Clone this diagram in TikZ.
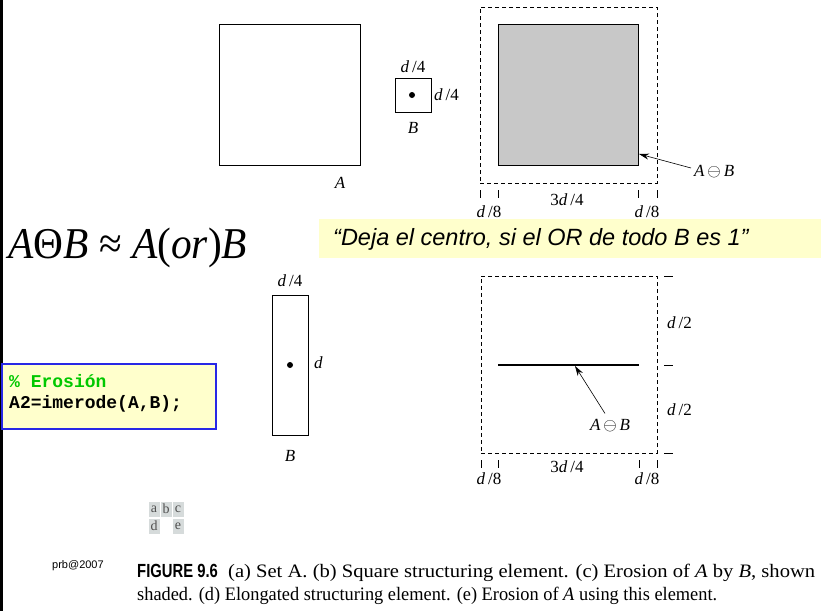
\documentclass[tikz,border=0pt]{standalone}
\usepackage{fontspec}
\setmainfont{Liberation Serif}
\setsansfont{Liberation Sans}
\setmonofont{Liberation Mono}
\usetikzlibrary{arrows.meta}
\definecolor{shadegray}{RGB}{200,200,200}
\definecolor{hlyellow}{RGB}{255,255,204}
\definecolor{codeblue}{RGB}{40,40,230}
\definecolor{codegreen}{RGB}{0,200,0}
\definecolor{cellgray}{RGB}{214,219,219}
\definecolor{celltext}{RGB}{80,80,80}
\newcommand{\dfrac}[1]{\textit{d}\,/#1}
\begin{document}
\begin{tikzpicture}[x=1pt,y=-1pt,
  lbl/.style={font=\fontsize{17}{17}\selectfont, inner sep=0pt},
  outline/.style={draw, line width=0.8pt, inner sep=0pt},
  dashbox/.style={draw, dash pattern=on 4pt off 3pt, line width=0.8pt, inner sep=0pt},
  tickline/.style={line width=0.8pt},
  ptr/.style={-{Stealth[length=10pt,width=6pt]}, line width=0.6pt},
  cell/.style={fill=cellgray, inner sep=0pt, minimum width=11pt, minimum height=15pt,
     font=\fontsize{14}{14}\selectfont, text=celltext},
]
\useasboundingbox (0,0) rectangle (821,611);
\fill[white] (0,0) rectangle (821,611);
\fill[black] (0,0) rectangle (2.5,611);

% (a) set A
\node[outline, minimum width=141pt, minimum height=141pt] (A) at (289.5,94.5) {};
\node[lbl] (Alab) at (340,183) {\textit{A}};

% (b) square structuring element
\node[outline, minimum width=36pt, minimum height=34pt] (B) at (413,95) {};
\fill (412,95) circle (3pt);
\node[lbl] (Btop) at (413,67) {\dfrac{4}};
\node[lbl, anchor=west] (Bright) at (434,95) {\dfrac{4}};
\node[lbl] (Blab) at (413,128) {\textit{B}};

% (c) erosion
\node[dashbox, minimum width=177pt, minimum height=176pt] (C) at (568.5,95) {};
\node[outline, fill=shadegray, minimum width=140pt, minimum height=141pt] (E) at (568,94.5) {};
\draw[tickline] (480,190) -- (480,198);
\draw[tickline] (498,190) -- (498,198);
\draw[tickline] (638,190) -- (638,198);
\draw[tickline] (657,190) -- (657,198);
\node[lbl] (c1) at (489,212) {\dfrac{8}};
\node[lbl] (c2) at (567,200) {3\textit{d}\,/4};
\node[lbl] (c3) at (647,212) {\dfrac{8}};
\node[lbl, anchor=west] (Elab) at (694,172) {\textit{A}\,$\ominus$\,\textit{B}};
\coordinate (Etip) at (639,154);
\path (Elab.west) ++(-3,-4) coordinate (Etail);
\draw[ptr] (Etail) -- (Etip);

% formula
\node[anchor=west, inner sep=0pt, font=\fontsize{44}{44}\selectfont] (F) at (8,248)
  {\resizebox{239pt}{\height}{\textit{A}Θ\textit{B} ≈ \textit{A}(\textit{or})\textit{B}}};

% yellow remark
\fill[hlyellow] (319,219) rectangle (821,258);
\node[anchor=west, inner sep=0pt, font=\sffamily\itshape\fontsize{23.5}{23.5}\selectfont] (R) at (333,239)
  {“Deja el centro, si el OR de todo B es 1”};

% (d) elongated structuring element
\node[outline, minimum width=36pt, minimum height=140pt] (D) at (290,365) {};
\fill (290,365) circle (3pt);
\node[lbl] (Dtop) at (290,281) {\dfrac{4}};
\node[lbl, anchor=west] (Dright) at (314,363) {\textit{d}};
\node[lbl] (Dlab) at (290,456) {\textit{B}};

% (e) erosion by elongated element
\node[dashbox, minimum width=176pt, minimum height=177pt] (G) at (569,364.5) {};
\coordinate (L1) at (498,365);
\coordinate (L2) at (639,365);
\draw[line width=2.5pt] (L1) -- (L2);
\node[lbl] (Glab) at (610,426) {\textit{A}\,$\ominus$\,\textit{B}};
\coordinate (Gtip) at (575,366);
\path (Glab.north) ++(-5,-6) coordinate (Gtail);
\draw[ptr] (Gtail) -- (Gtip);
\draw[tickline] (664,276) -- (673,276);
\draw[tickline] (664,365) -- (673,365);
\draw[tickline] (664,453) -- (673,453);
\node[lbl, anchor=west] (g1) at (667,323) {\dfrac{2}};
\node[lbl, anchor=west] (g2) at (667,410) {\dfrac{2}};
\draw[tickline] (481,460) -- (481,468);
\draw[tickline] (498,460) -- (498,468);
\draw[tickline] (639,460) -- (639,468);
\draw[tickline] (657,460) -- (657,468);
\node[lbl] (h1) at (489,479) {\dfrac{8}};
\node[lbl] (h2) at (567,467) {3\textit{d}\,/4};
\node[lbl] (h3) at (647,479) {\dfrac{8}};

% code box
\node[draw=codeblue, fill=hlyellow, line width=1.2pt, minimum width=214pt, minimum height=65pt, inner sep=0pt] (K) at (109,396.5) {};
\node[anchor=west, inner sep=0pt, text=codegreen, font=\ttfamily\bfseries\fontsize{18}{18}\selectfont] (K1) at (9,381) {\% Erosión};
\node[anchor=west, inner sep=0pt, font=\ttfamily\bfseries\fontsize{18}{18}\selectfont] (K2) at (9,404) {A2=imerode(A,B);};

% panel key
\node[cell] (ka) at (154,509) {a};
\node[cell] (kb) at (166,509) {b};
\node[cell] (kc) at (178,509) {c};
\node[cell] (kd) at (154,526) {d};
\node[cell] (ke) at (178,526) {e};

% credit and caption
\node[anchor=west, inner sep=0pt, font=\sffamily\fontsize{11}{11}\selectfont] (P) at (52,566) {prb@2007};
\node[anchor=west, inner sep=0pt, font=\fontsize{19}{19}\selectfont] (Cap1) at (137,573)
  {\resizebox{678pt}{\height}{\scalebox{0.72}[1]{\sffamily\bfseries FIGURE 9.6}\ \ (a) Set A. (b) Square structuring element. (c) Erosion of \textit{A} by \textit{B}, shown}};
\node[anchor=west, inner sep=0pt, font=\fontsize{19}{19}\selectfont] (Cap2) at (137,596)
  {\resizebox{580pt}{\height}{shaded. (d) Elongated structuring element. (e) Erosion of \textit{A} using this element.}};
\end{tikzpicture}
\end{document}
